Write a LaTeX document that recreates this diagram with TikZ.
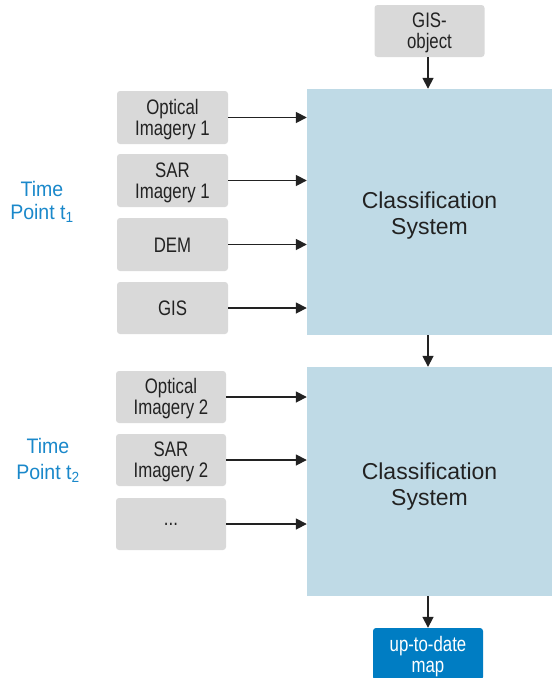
\documentclass[tikz,border=0pt]{standalone}
\usepackage{fontspec}
\setmainfont{Liberation Sans}
\newfontfamily\boxfont[FakeStretch=0.8]{Liberation Sans}
\newfontfamily\tpfont[FakeStretch=0.93]{Liberation Sans}
\usetikzlibrary{arrows.meta}
\definecolor{boxgrey}{HTML}{D9D9D9}
\definecolor{sysblue}{HTML}{BFDAE6}
\definecolor{mapblue}{HTML}{007DC3}
\definecolor{tpblue}{HTML}{1A88CA}
\definecolor{txt}{HTML}{222222}
\begin{document}
\begin{tikzpicture}[x=1pt,y=-1pt,
  inbox/.style={fill=boxgrey, rounded corners=3pt, minimum width=111pt, minimum height=53pt,
    inner sep=0pt},
  boxtext/.style={inner sep=0pt, align=center, text=txt, font=\boxfont\fontsize{21}{21}\selectfont},
  sysbox/.style={fill=sysblue, inner sep=0pt, minimum width=245pt},
  systext/.style={inner sep=0pt, align=center, text=txt, font=\fontsize{23}{26}\selectfont},
  mapbox/.style={fill=mapblue, rounded corners=3pt, minimum width=110pt, minimum height=52pt,
    inner sep=0pt},
  maptext/.style={boxtext, text=white},
  tplabel/.style={align=center, text=tpblue, inner sep=0pt, font=\tpfont\fontsize{21}{23}\selectfont},
  arr/.style={-{Triangle[length=11pt,width=11pt]}, line width=1.7pt, draw=txt}
]
\useasboundingbox (0,0) rectangle (552,678);

% classification systems
\node[sysbox, minimum height=246pt] (sys1) at (429.5,212) {};
\node[systext] (sys1t) at ([yshift=-4pt]sys1.center) {Classification\\System};
\node[sysbox, minimum height=229pt] (sys2) at (429.5,481.5) {};
\node[systext] (sys2t) at ([yshift=-5pt]sys2.center) {Classification\\System};

% top input
\node[inbox, minimum width=110pt, minimum height=52pt] (gisobj) at (429.5,31) {};
\node[boxtext] (gisobjt) at ([yshift=-2pt]gisobj.center) {GIS-\\object};

% time point 1 inputs
\node[inbox] (opt1) at (172.5,117.5) {};
\node[boxtext] (opt1t) at ([yshift=-2pt]opt1.center) {Optical\\Imagery 1};
\node[inbox] (sar1) at (172.5,180.5) {};
\node[boxtext] (sar1t) at ([yshift=-2pt]sar1.center) {SAR\\Imagery 1};
\node[inbox] (dem) at (172.5,244.5) {};
\node[boxtext] (demt) at ([yshift=-0.5pt]dem.center) {DEM};
\node[inbox, minimum height=52pt] (gis) at (172.5,308) {};
\node[boxtext] (gist) at ([yshift=-0.5pt]gis.center) {GIS};

% time point 2 inputs
\node[inbox, minimum width=110pt, minimum height=52pt] (opt2) at (171,397) {};
\node[boxtext] (opt2t) at ([yshift=-2pt]opt2.center) {Optical\\Imagery 2};
\node[inbox, minimum width=110pt, minimum height=52pt] (sar2) at (171,460) {};
\node[boxtext] (sar2t) at ([yshift=-2pt]sar2.center) {SAR\\Imagery 2};
\node[inbox, minimum width=110pt, minimum height=52pt] (more) at (171,524) {};
\node[boxtext] (moret) at (more.center) {...};

% output
\node[mapbox] (map) at (428,654) {};
\node[maptext] (mapt) at ([yshift=-3pt]map.center) {up-to-date\\map};

% time point labels
\node[tplabel] (tp1) at (42,202) {Time\\Point t\textsubscript{1}};
\node[tplabel, font=\tpfont\fontsize{21}{26}\selectfont] (tp2) at (48,460.5) {Time\\Point t\textsubscript{2}};

% arrows
\draw[arr] (gisobj.south -| map) -- (sys1.north -| map);
\draw[arr] (opt1.east) -- (opt1.east -| sys1.west);
\draw[arr] (sar1.east) -- (sar1.east -| sys1.west);
\draw[arr] (dem.east) -- (dem.east -| sys1.west);
\draw[arr] (gis.east) -- (gis.east -| sys1.west);
\draw[arr] (sys1.south -| map) -- (sys2.north -| map);
\draw[arr] (opt2.east) -- (opt2.east -| sys2.west);
\draw[arr] (sar2.east) -- (sar2.east -| sys2.west);
\draw[arr] (more.east) -- (more.east -| sys2.west);
\draw[arr] (sys2.south -| map) -- (map.north);
\end{tikzpicture}
\end{document}
